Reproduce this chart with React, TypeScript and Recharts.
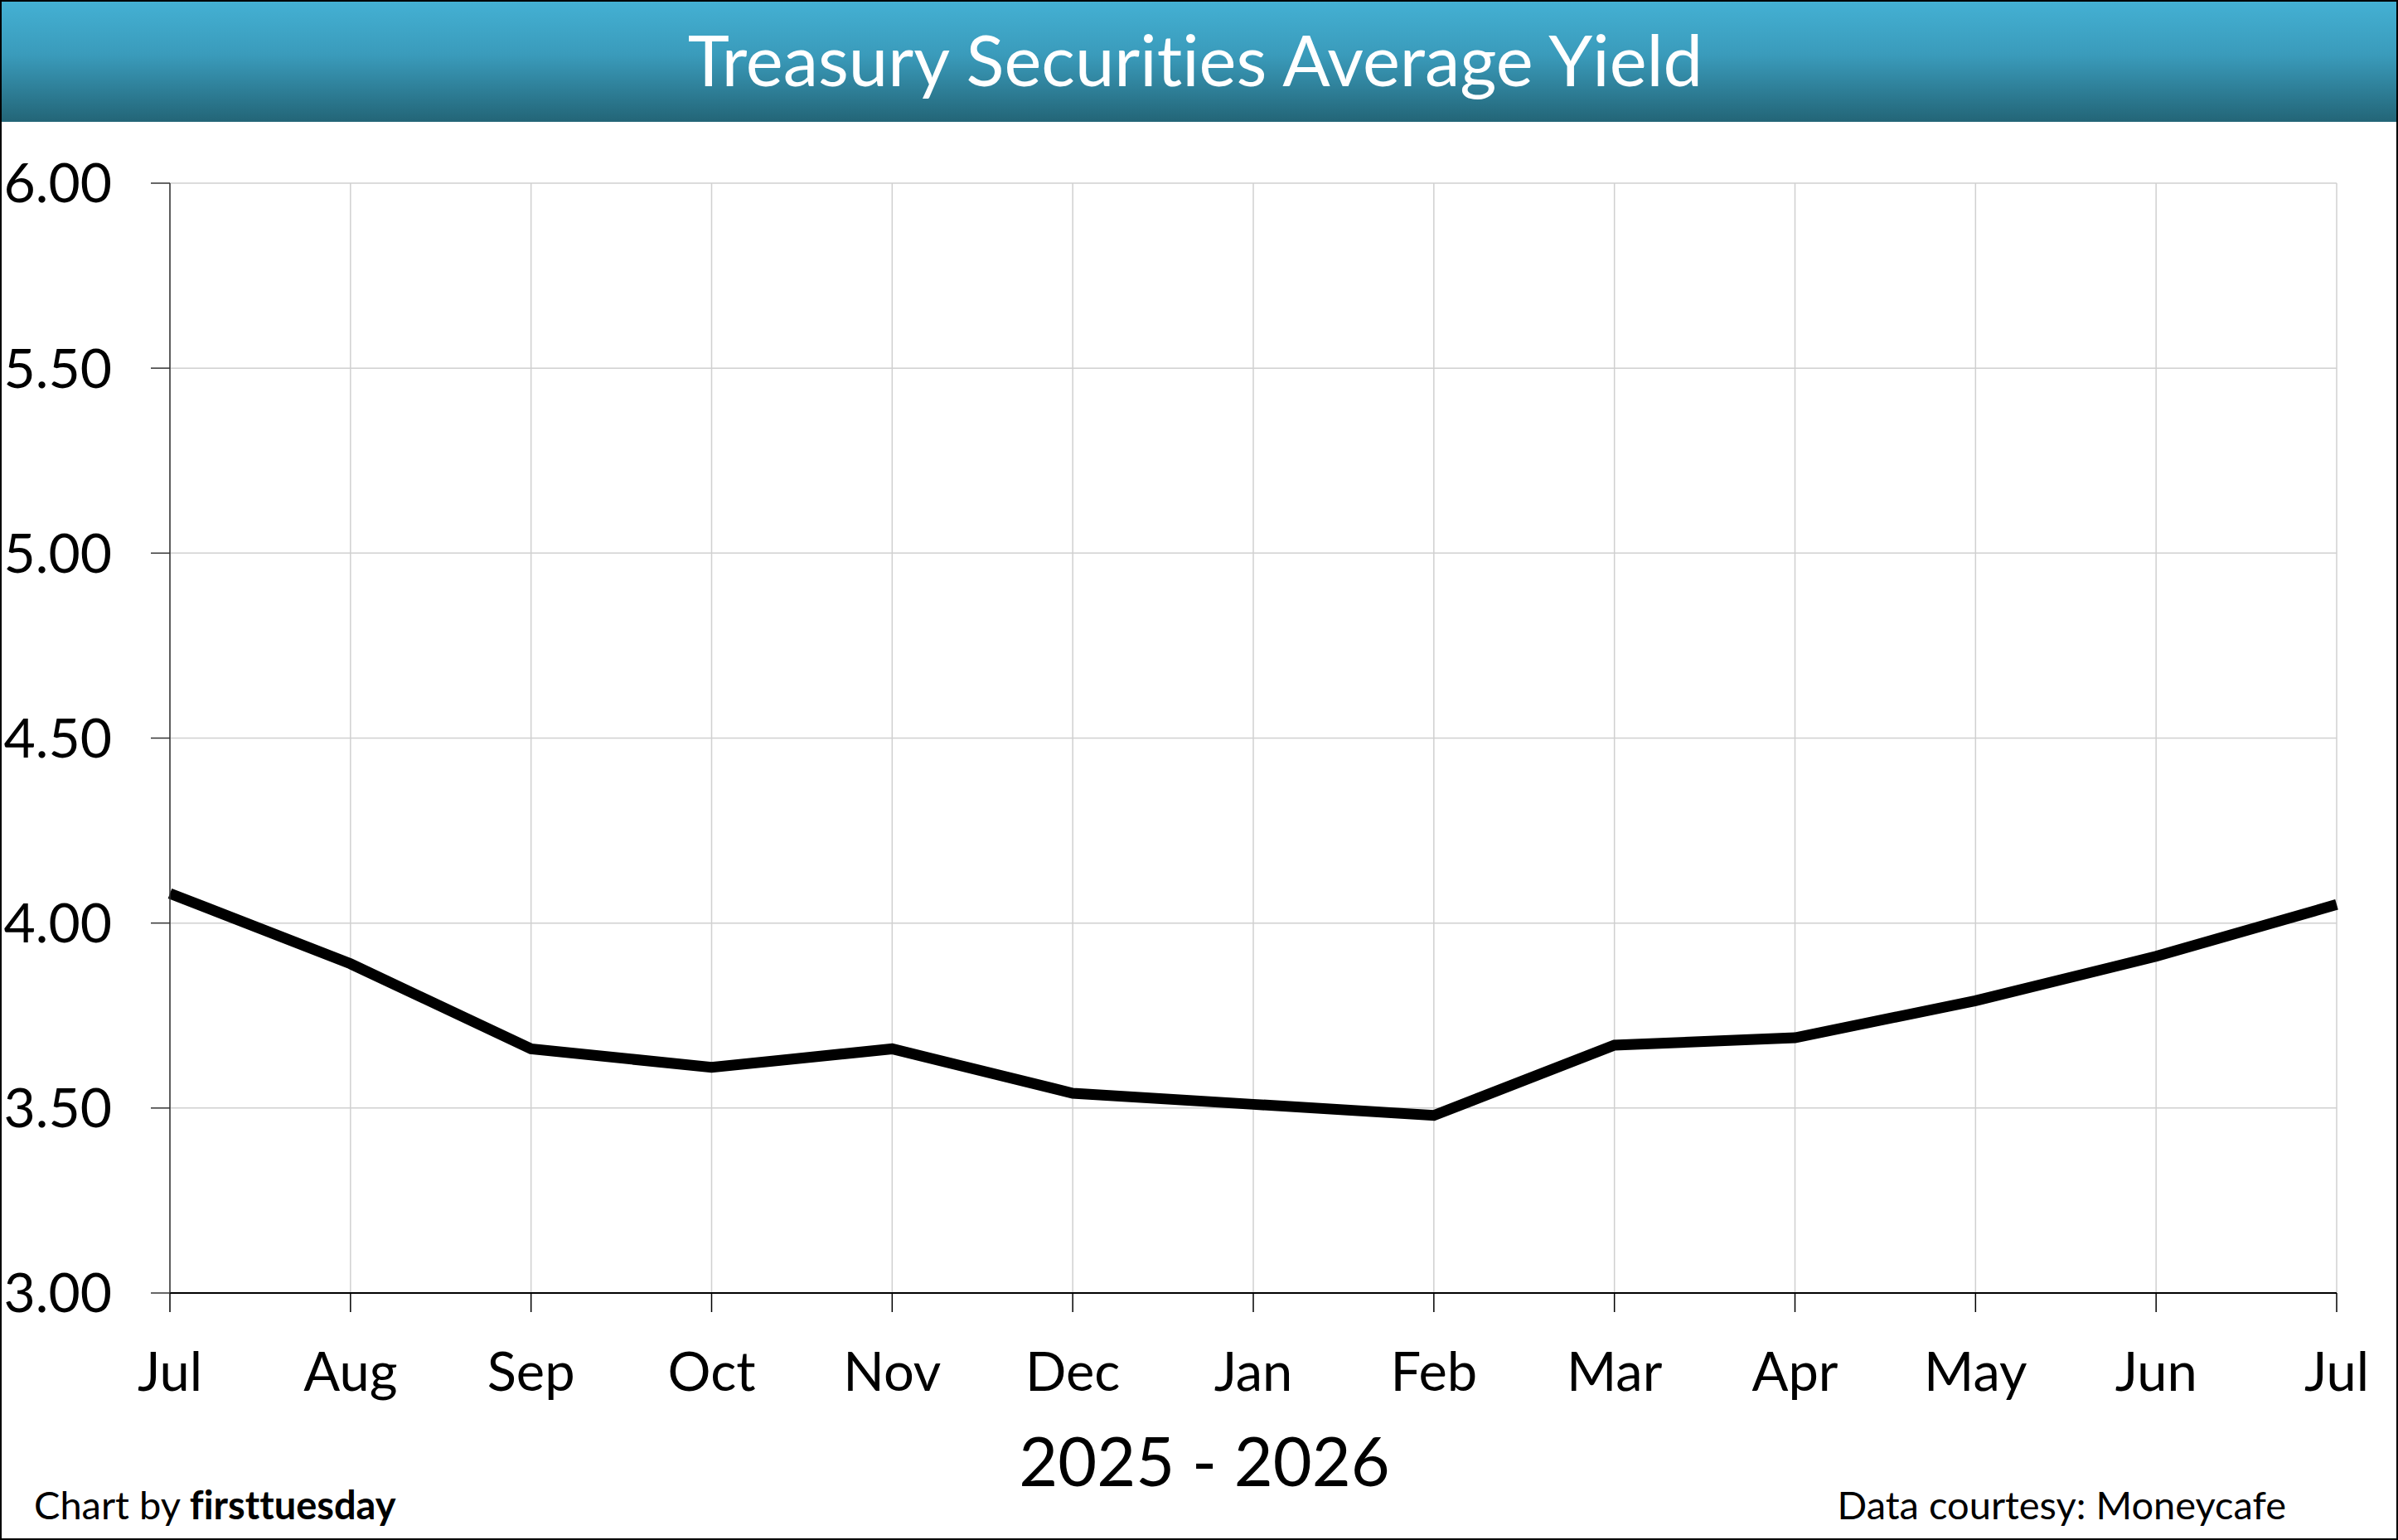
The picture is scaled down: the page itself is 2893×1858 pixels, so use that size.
import React from "react";
import { LineChart, Line, XAxis, YAxis, CartesianGrid } from "recharts";

const MONTHS = ["Jul", "Aug", "Sep", "Oct", "Nov", "Dec", "Jan", "Feb", "Mar", "Apr", "May", "Jun", "Jul"];
const YIELDS = [4.08, 3.89, 3.66, 3.61, 3.66, 3.54, 3.51, 3.48, 3.67, 3.69, 3.79, 3.91, 4.05];
const Y_TICKS = [3, 3.5, 4, 4.5, 5, 5.5, 6];

const W = 2893;
const H = 1858;
const FONT = "Lato, 'Open Sans', sans-serif";

export default function App() {
  const data = MONTHS.map((m, i) => ({ idx: i, month: m, value: YIELDS[i] }));

  return (
    <div
      style={{
        position: "absolute",
        left: 0,
        top: 0,
        width: W,
        height: H,
        background: "#fff",
        fontFamily: FONT,
        fontVariantLigatures: "none",
      }}
    >
      {/* header band */}
      <div
        style={{
          position: "absolute",
          left: 0,
          top: 0,
          width: W,
          height: 147,
          background: "linear-gradient(to bottom, #44b1d4 0%, #3a9bbb 45%, #236577 100%)",
        }}
      />

      <div style={{ position: "absolute", left: 0, top: 0 }}>
        <LineChart width={W} height={H} data={data} margin={{ top: 221, right: 74, bottom: 198, left: 5 }}>
          <CartesianGrid stroke="#d0d0d0" strokeWidth={1.5} />
          <XAxis
            dataKey="idx"
            type="category"
            interval={0}
            tickFormatter={(i: number) => MONTHS[i]}
            height={100}
            tickSize={23}
            tickMargin={49}
            axisLine={{ stroke: "#000", strokeWidth: 2 }}
            tickLine={{ stroke: "#000", strokeWidth: 1.5 }}
            tick={{ fontSize: 65, fill: "#000", fontFamily: FONT }}
          />
          <YAxis
            domain={[3, 6]}
            ticks={Y_TICKS}
            width={200}
            tickSize={23}
            tickMargin={47}
            tickFormatter={(v: number) => v.toFixed(2)}
            axisLine={{ stroke: "#333", strokeWidth: 1.5 }}
            tickLine={{ stroke: "#333", strokeWidth: 1.5 }}
            tick={{ fontSize: 66, fill: "#000", fontFamily: FONT }}
          />
          <Line
            type="linear"
            dataKey="value"
            stroke="#000"
            strokeWidth={13}
            dot={false}
            isAnimationActive={false}
          />
        </LineChart>
      </div>

      {/* titles and credits */}
      <svg
        width={W}
        height={H}
        style={{ position: "absolute", left: 0, top: 0, pointerEvents: "none", fontVariantLigatures: "none" }}
      >
        <text x={1442} y={104} textAnchor="middle" fontSize={85} fill="#fff" fontFamily={FONT}>
          Treasury Securities Average Yield
        </text>
        <text x={1453} y={1793} textAnchor="middle" fontSize={81} fill="#000" fontFamily={FONT}>
          2025 - 2026
        </text>
        <text x={41} y={1833} fontSize={47} fill="#000" fontFamily={FONT}>
          Chart by <tspan fontWeight="bold">firsttuesday</tspan>
        </text>
        <text x={2758} y={1833} textAnchor="end" fontSize={47} fill="#000" fontFamily={FONT}>
          Data courtesy: Moneycafe
        </text>
        <rect x={1} y={1} width={W - 2} height={H - 2} fill="none" stroke="#000" strokeWidth={2} />
      </svg>
    </div>
  );
}
